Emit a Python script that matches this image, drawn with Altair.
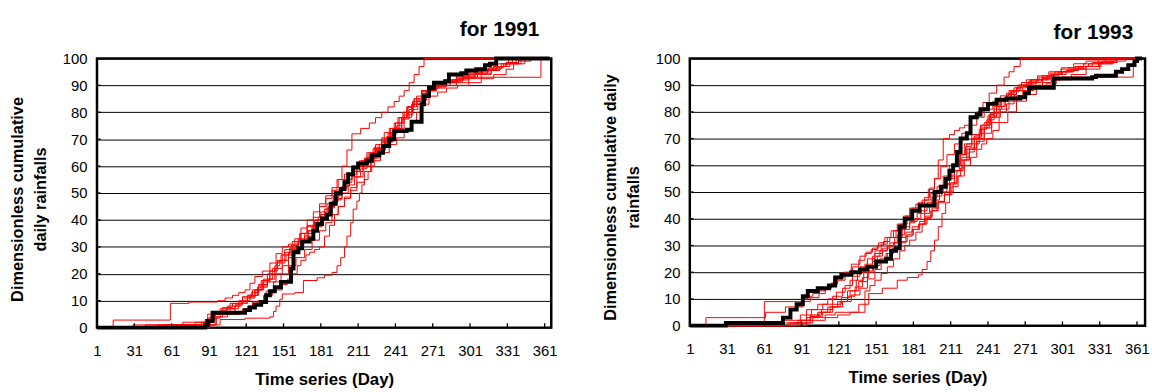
import altair as alt
import pandas as pd

FONT = "Liberation Sans"

TICK_DAYS = [1, 31, 61, 91, 121, 151, 181, 211, 241, 271, 301, 331, 361]
PCT_TICKS = [0, 10, 20, 30, 40, 50, 60, 70, 80, 90, 100]
GRID_PCT = [10, 20, 30, 40, 50, 60, 70, 80, 90]

# Each series: (day, cumulative rainfall in % of the annual total)

# ---- 1991 observed
obs91 = [(1, 0), (88, 1), (90, 2.5), (94, 5.5), (120, 6.5), (124, 7.5), (128, 8.5), (133, 9.5),
         (137, 12), (140, 13.5), (144, 15), (149, 17), (157, 22), (159, 28), (163, 29.5), (166, 32),
         (172, 33), (175, 36), (178, 38.5), (182, 40.5), (186, 42), (189, 46), (193, 50), (197, 51.5),
         (200, 54), (203, 57), (207, 59.5), (211, 61), (218, 62), (222, 64), (228, 65), (231, 67.5),
         (236, 70), (240, 73), (250, 73.5), (254, 76.5), (262, 83), (264, 86), (268, 89), (272, 91),
         (281, 91.5), (284, 94), (294, 94.5), (298, 95.5), (306, 96), (313, 97.5), (317, 98),
         (322, 100), (365, 100)]

# ---- 1991 generated
sim91_a = [(1, 0), (14, 2.8), (60, 9), (75, 9.5), (98, 10), (104, 11), (110, 12), (115, 13), (120, 14),
           (124, 16.5), (128, 19), (134, 21), (140, 24), (145, 27.5), (150, 30), (155, 31), (160, 33),
           (165, 37), (170, 40), (175, 43), (180, 46), (185, 49), (190, 52), (195, 55), (200, 57),
           (206, 60), (212, 62), (218, 65), (225, 68), (232, 72.5), (240, 76), (247, 80), (255, 84),
           (262, 88), (270, 90), (280, 91.5), (290, 93), (300, 94.5), (310, 96), (320, 97), (330, 98),
           (345, 100), (365, 100)]
sim91_b = [(1, 0), (92, 1), (100, 3), (120, 3.5), (140, 4), (143, 6), (145, 8), (148, 10.5), (150, 12.5),
           (160, 13), (167, 17.5), (178, 18.5), (184, 19.5), (190, 20.5), (194, 23), (197, 26), (200, 30),
           (202, 34), (205, 39), (207, 44), (210, 47), (212, 50), (214, 53), (216, 55), (219, 58),
           (221, 60), (224, 63), (226, 66), (230, 69), (235, 72), (241, 76), (248, 80), (255, 84),
           (262, 88), (270, 90), (280, 92), (290, 93.5), (300, 95), (310, 96), (320, 97), (330, 98.5),
           (340, 100), (365, 100)]
sim91_c = [(1, 0), (85, 2), (95, 6), (102, 7.5), (110, 9), (118, 11), (125, 13), (131, 15.5), (138, 18),
           (144, 22), (150, 25), (155, 28), (160, 31), (165, 35), (170, 38), (175, 41), (180, 45),
           (185, 48), (190, 51), (194, 55), (198, 60), (202, 66), (206, 72), (213, 74), (220, 76),
           (225, 78), (230, 80), (235, 82), (240, 84), (244, 86), (248, 88), (252, 91), (256, 94),
           (260, 97), (264, 100), (365, 100)]
sim91_d = [(1, 0), (30, 1), (80, 2), (90, 3.5), (100, 5), (108, 7), (115, 9), (122, 12), (130, 15),
           (138, 17), (145, 20), (150, 23), (155, 26), (160, 29), (165, 32), (171, 36), (178, 40),
           (184, 44), (190, 47), (195, 51), (200, 55), (206, 58), (212, 61), (218, 63), (225, 66),
           (232, 70), (240, 74), (248, 79), (255, 83), (262, 86), (268, 88), (274, 90), (280, 91),
           (290, 92), (300, 93), (358, 100), (365, 100)]
sim91_e = [(1, 0), (40, 1), (88, 3), (96, 5), (105, 7), (112, 8.5), (118, 10), (122, 12), (126, 14),
           (133, 17.5), (140, 21), (144, 23), (148, 25), (153, 27), (158, 29), (163, 31.5), (168, 34),
           (175, 37.5), (182, 41), (187, 44.5), (192, 48), (198, 52.5), (204, 57), (210, 60), (216, 63),
           (223, 66.5), (230, 70), (237, 74), (244, 78), (251, 82), (258, 86), (265, 88), (272, 89),
           (281, 90), (290, 91), (300, 92.5), (310, 94), (318, 95.5), (325, 97), (333, 98.5), (340, 100),
           (365, 100)]
sim91_f = [(1, 0), (55, 1), (92, 4), (102, 6), (112, 8), (117, 9.5), (122, 11), (128, 14), (134, 17),
           (140, 21), (146, 25), (149, 27), (152, 29), (158, 32), (164, 35), (170, 37.5), (176, 40),
           (181, 43), (186, 46), (191, 49), (196, 52), (201, 55), (206, 58), (210, 60), (214, 62),
           (219, 64.5), (224, 67), (230, 70.5), (236, 74), (243, 78), (250, 82), (256, 85), (262, 88),
           (270, 89.5), (278, 91), (287, 92), (296, 93), (307, 94.5), (318, 96), (326, 98), (335, 100),
           (365, 100)]
sim91_g = [(1, 0), (70, 2), (95, 5), (106, 6), (118, 7), (126, 9.5), (135, 12), (142, 14), (150, 16),
           (154, 18), (158, 20), (162, 23), (165, 25), (169, 27), (172, 28), (176, 29), (180, 30),
           (184, 34), (188, 38), (192, 42), (195, 45), (200, 48.5), (205, 52), (210, 56), (215, 60),
           (221, 63), (228, 66), (233, 69), (238, 72), (242, 75), (246, 78), (251, 82), (256, 85),
           (263, 88), (270, 90), (278, 91), (285, 92), (295, 93.5), (305, 95), (316, 96.5), (328, 98),
           (340, 99), (350, 100), (365, 100)]
sim91_h = [(1, 0), (65, 1), (90, 5), (100, 7), (108, 9), (118, 11.5), (128, 14), (135, 18), (142, 22),
           (146, 24.5), (150, 27), (156, 29.5), (162, 32), (168, 35), (174, 38), (179, 41), (184, 44),
           (189, 46.5), (194, 49), (198, 51.5), (202, 54), (206, 56), (210, 58), (215, 61), (220, 64),
           (226, 66.5), (232, 69), (239, 73.5), (246, 78), (254, 83), (262, 87), (269, 89), (276, 90),
           (285, 91.5), (295, 93), (305, 94.5), (315, 96), (323, 98), (332, 100), (365, 100)]
sim91_i = [(1, 0), (75, 1), (97, 4), (106, 5), (115, 6), (122, 8), (130, 10), (137, 13.5), (143, 17),
           (149, 20), (155, 23), (161, 26), (168, 29), (174, 32.5), (180, 36), (185, 39), (190, 42),
           (195, 45), (200, 48), (205, 51), (210, 54), (216, 58), (222, 62), (229, 65), (236, 68),
           (242, 70.5), (248, 73), (253, 76.5), (258, 80), (263, 83), (268, 86), (275, 87.5), (282, 89),
           (291, 90), (300, 91), (310, 92.5), (320, 94), (330, 96), (336, 98), (342, 100), (365, 100)]
sim91_j = [(1, 0), (50, 1), (96, 5), (101, 6.5), (106, 8), (115, 10), (124, 12), (131, 16), (138, 20),
           (145, 24), (152, 28), (157, 30.5), (163, 33), (170, 36), (176, 39), (181, 42), (187, 45),
           (192, 47.5), (198, 50), (203, 53), (208, 56), (213, 59), (218, 62), (223, 65), (228, 68),
           (234, 71), (240, 74), (246, 77.5), (252, 81), (259, 84.5), (266, 88), (274, 89.5), (282, 91),
           (291, 92.5), (300, 94), (311, 95.5), (322, 97), (330, 98.5), (338, 100), (365, 100)]

# ---- 1993 observed
obs93 = [(1, 0), (30, 1), (76, 3), (82, 6), (87, 8), (92, 11), (96, 13), (104, 14), (113, 15), (118, 18),
         (123, 19), (131, 20), (138, 21), (144, 22), (151, 24), (159, 25), (163, 28), (167, 29), (170, 37),
         (174, 40), (180, 43), (186, 45), (198, 50), (203, 52), (207, 55), (210, 58), (213, 60), (216, 65),
         (219, 70), (224, 72), (227, 78), (232, 79), (235, 81), (241, 83), (248, 84.5), (256, 85),
         (267, 85.5), (271, 87), (274, 89), (294, 92.5), (325, 93), (328, 93.5), (344, 95), (349, 96),
         (354, 97.5), (359, 99), (361, 100), (365, 100)]

# ---- 1993 generated
sim93_a = [(1, 0), (14, 3), (50, 3), (62, 5), (78, 7), (92, 9), (98, 10.5), (105, 12), (110, 14), (115, 16),
           (120, 18), (125, 20), (131, 23), (138, 26), (143, 27.5), (148, 29), (153, 31), (158, 33),
           (163, 35.5), (168, 38), (173, 41), (178, 44), (183, 45.5), (188, 47), (193, 51), (198, 55),
           (203, 59.5), (208, 64), (214, 68), (220, 72), (226, 75), (232, 78), (238, 81), (245, 84),
           (251, 86), (258, 88), (265, 90), (272, 92), (281, 93.5), (290, 95), (300, 96.5), (310, 98),
           (320, 99), (330, 100), (365, 100)]
sim93_b = [(1, 0), (45, 1), (61, 9), (92, 10), (96, 11), (100, 12), (105, 13), (110, 14), (115, 15.5),
           (120, 17), (126, 19.5), (132, 22), (137, 24.5), (142, 27), (147, 28.5), (152, 30), (157, 31.5),
           (162, 33), (167, 35.5), (172, 38), (176, 40.5), (180, 43), (185, 45), (190, 47), (195, 49.5),
           (200, 52), (205, 56), (210, 60), (216, 64), (222, 68), (228, 71.5), (235, 75), (241, 78.5),
           (248, 82), (254, 85), (260, 88), (267, 90), (275, 92), (285, 93.5), (295, 95), (306, 96.5),
           (318, 98), (330, 99), (340, 100), (365, 100)]
sim93_c = [(1, 0), (80, 1), (95, 2), (110, 3), (120, 4), (130, 5), (137, 8), (145, 12), (156, 14),
           (168, 17), (176, 18), (185, 19), (188, 21), (192, 24), (195, 28), (198, 32), (201, 37),
           (204, 42), (207, 46), (210, 50), (213, 53), (216, 56), (219, 59), (222, 62), (226, 65),
           (230, 68), (234, 72), (238, 76), (242, 79), (246, 82), (251, 84.5), (256, 87), (262, 89),
           (268, 91), (276, 92), (285, 93), (292, 94), (300, 95), (310, 96), (320, 97), (332, 98.5),
           (345, 100), (365, 100)]
sim93_d = [(1, 0), (85, 1), (100, 3), (110, 4), (118, 5), (130, 5), (142, 13), (146, 15), (150, 17),
           (155, 19.5), (160, 22), (165, 25), (170, 28), (174, 30), (178, 32), (183, 35), (188, 38),
           (192, 40.5), (196, 43), (201, 46.5), (206, 50), (210, 55), (214, 60), (219, 64), (224, 68),
           (230, 71), (236, 74), (242, 78), (248, 82), (255, 85), (262, 88), (269, 89.5), (276, 91),
           (284, 92.5), (292, 94), (301, 95), (310, 96), (320, 97), (330, 98), (341, 99), (352, 100),
           (365, 100)]
sim93_e = [(1, 0), (75, 2), (95, 6), (104, 8), (112, 10), (119, 12.5), (126, 15), (132, 18.5), (138, 22),
           (144, 25), (150, 28), (155, 30.5), (160, 33), (165, 35.5), (170, 38), (175, 41), (180, 44),
           (185, 46), (190, 48), (194, 51.5), (198, 55), (201, 62), (205, 70), (210, 71.5), (214, 73),
           (218, 74), (222, 75), (227, 77.5), (232, 80), (237, 83.5), (242, 87), (248, 90), (254, 93),
           (258, 95), (262, 97), (267, 100), (365, 100)]
sim93_f = [(1, 0), (70, 1), (90, 4), (99, 6), (108, 8), (116, 11), (124, 14), (130, 17), (136, 20),
           (142, 23), (148, 26), (154, 28), (160, 30), (166, 33), (172, 36), (178, 39), (184, 42),
           (190, 44.5), (196, 47), (202, 50), (208, 53), (214, 58), (220, 63), (226, 66.5), (232, 70),
           (238, 74), (244, 78), (251, 81), (258, 84), (264, 86), (270, 88), (278, 89.5), (285, 91),
           (292, 92), (300, 93), (358, 100), (365, 100)]
sim93_g = [(1, 0), (90, 2), (98, 3.5), (105, 5), (114, 7), (122, 9), (128, 13), (135, 17), (141, 20.5),
           (148, 24), (152, 26), (156, 28), (160, 29.5), (165, 31), (170, 33), (175, 35), (180, 37),
           (186, 39), (190, 42), (194, 45), (199, 48.5), (204, 52), (208, 55), (212, 58), (218, 62),
           (224, 66), (230, 70.5), (236, 75), (243, 79.5), (250, 84), (257, 86.5), (264, 89), (272, 90.5),
           (280, 92), (289, 93.5), (298, 95), (308, 96), (318, 97), (330, 98.5), (340, 100), (365, 100)]
sim93_h = [(1, 0), (95, 3), (104, 5), (112, 7), (120, 9), (128, 11), (134, 14.5), (140, 18), (145, 22.5),
           (150, 27), (156, 29), (162, 31), (168, 34), (174, 37), (178, 38.5), (182, 40), (187, 43),
           (192, 46), (196, 48), (200, 50), (205, 53), (210, 56), (214, 60), (218, 64), (223, 67),
           (228, 70), (234, 73.5), (240, 77), (246, 81), (252, 85), (259, 87.5), (266, 90), (274, 91.5),
           (282, 93), (291, 94.5), (300, 96), (311, 97), (322, 98), (333, 99), (345, 100), (365, 100)]
sim93_i = [(1, 0), (82, 1), (98, 4), (107, 6), (116, 8), (123, 10.5), (130, 13), (137, 16.5), (144, 20),
           (149, 22.5), (154, 25), (159, 27), (164, 29), (170, 31.5), (176, 34), (181, 36), (186, 38),
           (191, 41), (196, 44), (201, 46.5), (206, 49), (211, 53.5), (216, 58), (221, 62), (226, 66),
           (232, 69), (238, 72), (244, 76), (250, 80), (256, 83), (262, 86), (269, 88), (276, 90),
           (285, 92), (294, 94), (304, 95.5), (314, 97), (325, 98.5), (336, 100), (365, 100)]
sim93_j = [(1, 0), (88, 2), (98, 3.5), (108, 5), (116, 7), (124, 9), (131, 11.5), (138, 14), (144, 17.5),
           (150, 21), (155, 24), (160, 27), (165, 29), (170, 31), (175, 33.5), (180, 36), (185, 38),
           (190, 40), (195, 43), (200, 46), (206, 49), (212, 52), (217, 56), (222, 60), (227, 63),
           (232, 66), (236, 68), (240, 70), (245, 73), (250, 76), (257, 80), (264, 84), (272, 86.5),
           (280, 89), (288, 90.5), (296, 92), (308, 94), (320, 96), (331, 98), (342, 100), (365, 100)]


def to_frame(named_series):
    rows = []
    for name, pairs in named_series:
        for d, p in pairs:
            rows.append({"series": name, "day": d, "pct": p})
    return pd.DataFrame(rows)


sims91_df = to_frame([("a", sim91_a), ("b", sim91_b), ("c", sim91_c), ("d", sim91_d), ("e", sim91_e),
                      ("f", sim91_f), ("g", sim91_g), ("h", sim91_h), ("i", sim91_i), ("j", sim91_j)])
obs91_df = to_frame([("obs", obs91)])
sims93_df = to_frame([("a", sim93_a), ("b", sim93_b), ("c", sim93_c), ("d", sim93_d), ("e", sim93_e),
                      ("f", sim93_f), ("g", sim93_g), ("h", sim93_h), ("i", sim93_i), ("j", sim93_j)])
obs93_df = to_frame([("obs", obs93)])


def panel(title, title_offset, y_title, y_title_shift, sims, obs, width, height, xmax):
    xscale = alt.Scale(domain=[1, xmax], nice=False, zero=False)
    yscale = alt.Scale(domain=[0, 100], nice=False)
    x = alt.X("day:Q", scale=xscale, axis=alt.Axis(
        values=TICK_DAYS, tickCount=len(TICK_DAYS) + 2, grid=False, ticks=False, domain=False,
        labelFlush=False, labelFontSize=15, labelPadding=16, labelOverlap=False, labelBound=False,
        title="Time series (Day)", titleFontSize=17, titleFontWeight="bold",
        titleBaseline="alphabetic", titleY=57))
    y = alt.Y("pct:Q", scale=yscale, axis=alt.Axis(
        values=PCT_TICKS, tickCount=len(PCT_TICKS) + 2, grid=True, gridColor="black",
        gridWidth=1, gridOpacity=1, ticks=False, domain=False, labelFontSize=15, labelPadding=10,
        labelOverlap=False, labelBound=False, labelFlush=False,
        title=y_title, titleFontSize=16.5, titleFontWeight="bold", titleLineHeight=23,
        titleBaseline="middle", titleAlign="center", titleX=-80,
        titleY=height / 2 + y_title_shift))

    red = alt.Chart(sims).mark_line(interpolate="step-after", color="#ff0000", strokeWidth=1).encode(
        x=x, y=y, detail="series:N")
    black = alt.Chart(obs).mark_line(interpolate="step-after", color="black", strokeWidth=4,
                                      strokeJoin="miter").encode(x=x, y=y)

    # short inward tick marks along the bottom and left edges
    xt = alt.Chart(pd.DataFrame({"day": TICK_DAYS})).mark_rule(color="black", strokeWidth=1.3).encode(
        x=x, y=alt.datum(0), y2=alt.datum(1.6))
    yt = alt.Chart(pd.DataFrame({"pct": GRID_PCT})).mark_rule(color="black", strokeWidth=1.3).encode(
        y=y, x=alt.datum(1), x2=alt.datum(4))

    return alt.layer(red, black, xt, yt).properties(
        width=width, height=height,
        title=alt.TitleParams(text=title, anchor="end", frame="group", fontSize=21,
                              fontWeight="bold", offset=title_offset, dx=-12),
    )


p91 = panel("for 1991", 11, ["Dimensionless cumulative", "daily rainfalls"], 6,
            sims91_df, obs91_df, 459, 272, 366.3)
p93 = panel("for 1993", 8, ["Dimensionless cumulative daily", "rainfalls"], 5,
            sims93_df, obs93_df, 460, 270, 367.5)

chart = alt.hconcat(p91, p93, spacing=42).properties(
    padding={"left": 8, "top": 15, "right": 0, "bottom": 0}
).configure_view(
    stroke="black", strokeWidth=2.5
).configure_axis(
    labelFont=FONT, titleFont=FONT, labelColor="black", titleColor="black"
).configure_title(
    font=FONT, color="black"
)

chart.save("out.html", embed_options={"renderer": "svg", "actions": False})
